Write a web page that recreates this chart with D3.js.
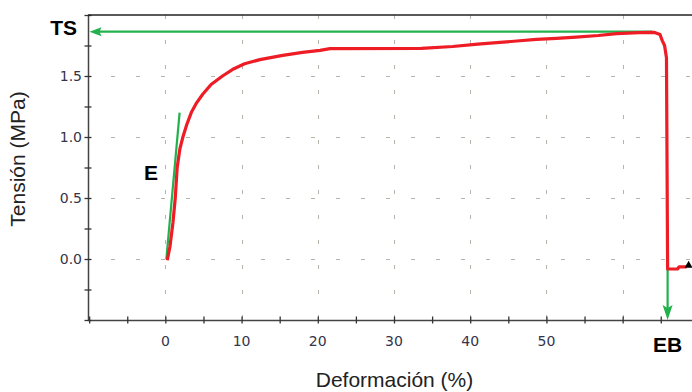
<!DOCTYPE html>
<html>
<head>
<meta charset="utf-8">
<script src="https://cdn.jsdelivr.net/npm/d3@7"></script>
<style>
  body { margin: 0; background: #fff; }
  svg { display: block; }
</style>
</head>
<body>
<svg id="chart" width="692" height="392"></svg>
<script>
// tensile curve: strain (%) and stress (MPa)
const strain = [0.25, 0.6, 1.0, 1.3, 1.55, 1.9, 2.3, 2.8, 3.4, 4.1, 4.9, 6.0, 7.5, 9.0, 10.4, 12.4, 15.4, 18.0, 20.3, 21.6,
  33.6, 37.7, 41.0, 43.9, 46.5, 48.7, 51.3, 53.9, 56.8, 59.2, 62.2, 64.2, 64.9, 65.2, 65.5, 65.75,
  65.9, 67.2, 67.4, 68.4]
const stress = [-0.01, 0.1, 0.3, 0.5, 0.75, 0.9, 1.0, 1.1, 1.2, 1.28, 1.35, 1.43, 1.5, 1.56, 1.6, 1.634, 1.669, 1.693, 1.71, 1.724,
  1.727, 1.742, 1.762, 1.775, 1.789, 1.8, 1.808, 1.819, 1.832, 1.847, 1.855, 1.857, 1.84, 1.79, 1.75, 1.65,
  -0.082, -0.082, -0.065, -0.065]

// modulus line (E), tensile strength (TS), elongation at break (EB)
const modStrain = [0.13, 1.87]
const modStress = [0.0, 1.2]
const tsValue = 1.863
const tsStrainEnd = 63.9
const ebValue = 65.9
const endPoint = [68.66, -0.053]

const xTickLabels = [0, 10, 20, 30, 40, 50]
const yTickLabels = [0.0, 0.5, 1.0, 1.5]

let width = 692
let height = 392
let margin = { top: 15, right: 0, bottom: 72, left: 88 }
let svg = d3.select("#chart")

let red = "#ee1c25"
let green = "#22b14c"
let tickColor = "#34344a"

let x = d3.scaleLinear()
  .domain([-10.15, 69.1])
  .range([margin.left, width - margin.right])

let y = d3.scaleLinear()
  .domain([-0.5, 2.0])
  .range([height - margin.bottom, margin.top])

let bottom = height - margin.bottom

// dashed grid
let grid = svg.append("g").attr("id", "grid")
  .style("stroke", "#b4b4aa")
  .style("stroke-width", 1)
  .style("stroke-dasharray", "4,21")

grid.selectAll("line.v")
  .data(d3.range(0, 61, 10))
  .join("line")
  .attr("class", "v")
  .attr("x1", d => Math.round(x(d)) + 0.5)
  .attr("x2", d => Math.round(x(d)) + 0.5)
  .attr("y1", margin.top)
  .attr("y2", bottom)

grid.selectAll("line.h")
  .data(yTickLabels)
  .join("line")
  .attr("class", "h")
  .attr("x1", margin.left)
  .attr("x2", width)
  .attr("y1", d => Math.round(y(d)) + 0.5)
  .attr("y2", d => Math.round(y(d)) + 0.5)
  .style("stroke-dashoffset", 2)

// axes
let xAxisSettings = d3.axisBottom(x)
  .tickValues(d3.range(-10, 66, 5))
  .tickSizeInner(3.5)
  .tickSizeOuter(0)
  .tickFormat("")

let yAxisSettings = d3.axisLeft(y)
  .tickValues(d3.range(-0.5, 2.01, 0.25))
  .tickSizeInner(3.5)
  .tickSizeOuter(0)
  .tickFormat("")

let xAxisTicks = svg.append("g")
  .attr("class", "x axis")
  .attr("transform", `translate(0,${bottom})`)
  .call(xAxisSettings)

let yAxisTicks = svg.append("g")
  .attr("class", "y axis")
  .attr("transform", `translate(${margin.left},0)`)
  .call(yAxisSettings)

// ticks cross the axis line
svg.selectAll(".axis .tick line")
  .attr("stroke", "#333")
  .attr("stroke-width", 1.3)
xAxisTicks.selectAll(".tick line").attr("y1", -3.5).attr("y2", 3.5)
yAxisTicks.selectAll(".tick line").attr("x1", -3.5).attr("x2", 3.5)
svg.selectAll(".axis .domain")
  .attr("stroke", "#444")
  .attr("stroke-width", 1.5)

// top frame line
svg.append("line")
  .attr("x1", margin.left)
  .attr("x2", width)
  .attr("y1", margin.top)
  .attr("y2", margin.top)
  .style("stroke", "#222")
  .style("stroke-width", 1.5)

// tick labels
svg.append("g").selectAll("text")
  .data(xTickLabels)
  .join("text")
  .attr("x", d => x(d))
  .attr("y", bottom + 26)
  .attr("text-anchor", "middle")
  .style("font-family", "'DejaVu Sans', Verdana, sans-serif")
  .style("font-size", "14px")
  .style("fill", tickColor)
  .text(d => d)

svg.append("g").selectAll("text")
  .data(yTickLabels)
  .join("text")
  .attr("x", margin.left - 6)
  .attr("y", d => y(d))
  .attr("dy", "0.36em")
  .attr("text-anchor", "end")
  .style("font-family", "'DejaVu Sans', Verdana, sans-serif")
  .style("font-size", "14px")
  .style("fill", tickColor)
  .text(d => d3.format(".1f")(d))

// axis titles
svg.append("text")
  .attr("x", 394.5)
  .attr("y", 386.5)
  .attr("text-anchor", "middle")
  .style("font-family", "'Liberation Sans', Arial, sans-serif")
  .style("font-size", "21px")
  .style("fill", "#222")
  .text("Deformación (%)")

svg.append("text")
  .attr("transform", "translate(25,159) rotate(-90)")
  .attr("text-anchor", "middle")
  .style("font-family", "'Liberation Sans', Arial, sans-serif")
  .style("font-size", "21px")
  .style("fill", "#222")
  .text("Tensión (MPa)")

// stress-strain curve
let curve = strain.map((s, i) => [s, stress[i]])
let line = d3.line()
  .x(d => x(d[0]))
  .y(d => y(d[1]))

// green annotations
let ann = svg.append("g").attr("id", "annotations")

ann.append("path")
  .attr("d", line(modStrain.map((s, i) => [s, modStress[i]])))
  .style("fill", "none")
  .style("stroke", green)
  .style("stroke-width", 2.2)

svg.append("path")
  .attr("d", line(curve))
  .style("fill", "none")
  .style("stroke", red)
  .style("stroke-width", 3.2)
  .style("stroke-linejoin", "round")

// TS arrow pointing to the y axis
let tsY = y(tsValue)
let tipX = margin.left + 1.5
ann.append("line")
  .attr("x1", x(tsStrainEnd))
  .attr("x2", tipX + 8)
  .attr("y1", tsY)
  .attr("y2", tsY)
  .style("stroke", green)
  .style("stroke-width", 2.2)
ann.append("path")
  .attr("d", `M${tipX},${tsY} L${tipX + 12},${tsY - 4.5} L${tipX + 10},${tsY} L${tipX + 12},${tsY + 4.5} Z`)
  .style("fill", green)

// EB arrow pointing to the x axis
let ebX = x(ebValue)
ann.append("line")
  .attr("x1", ebX)
  .attr("x2", ebX)
  .attr("y1", y(stress[stress.length - 4]))
  .attr("y2", bottom - 8)
  .style("stroke", green)
  .style("stroke-width", 2.2)
ann.append("path")
  .attr("d", `M${ebX},${bottom} L${ebX - 5},${bottom - 15} L${ebX},${bottom - 12} L${ebX + 5},${bottom - 15} Z`)
  .style("fill", green)

// end marker
svg.append("path")
  .attr("d", d3.symbol(d3.symbolTriangle, 28)())
  .attr("transform", `translate(${x(endPoint[0])},${y(endPoint[1])})`)
  .style("fill", "#000")

// labels
let labelStyle = sel => sel
  .style("font-family", "'Liberation Sans', Arial, sans-serif")
  .style("font-size", "21px")
  .style("font-weight", "bold")
  .style("fill", "#000")

svg.append("text")
  .attr("x", margin.left - 11)
  .attr("y", tsY + 3.5)
  .attr("text-anchor", "end")
  .call(labelStyle)
  .text("TS")

svg.append("text")
  .attr("x", ebX)
  .attr("y", bottom + 31.5)
  .attr("text-anchor", "middle")
  .call(labelStyle)
  .text("EB")

svg.append("text")
  .attr("x", x(-2.8))
  .attr("y", y(0.648))
  .call(labelStyle)
  .text("E")
</script>
</body>
</html>
